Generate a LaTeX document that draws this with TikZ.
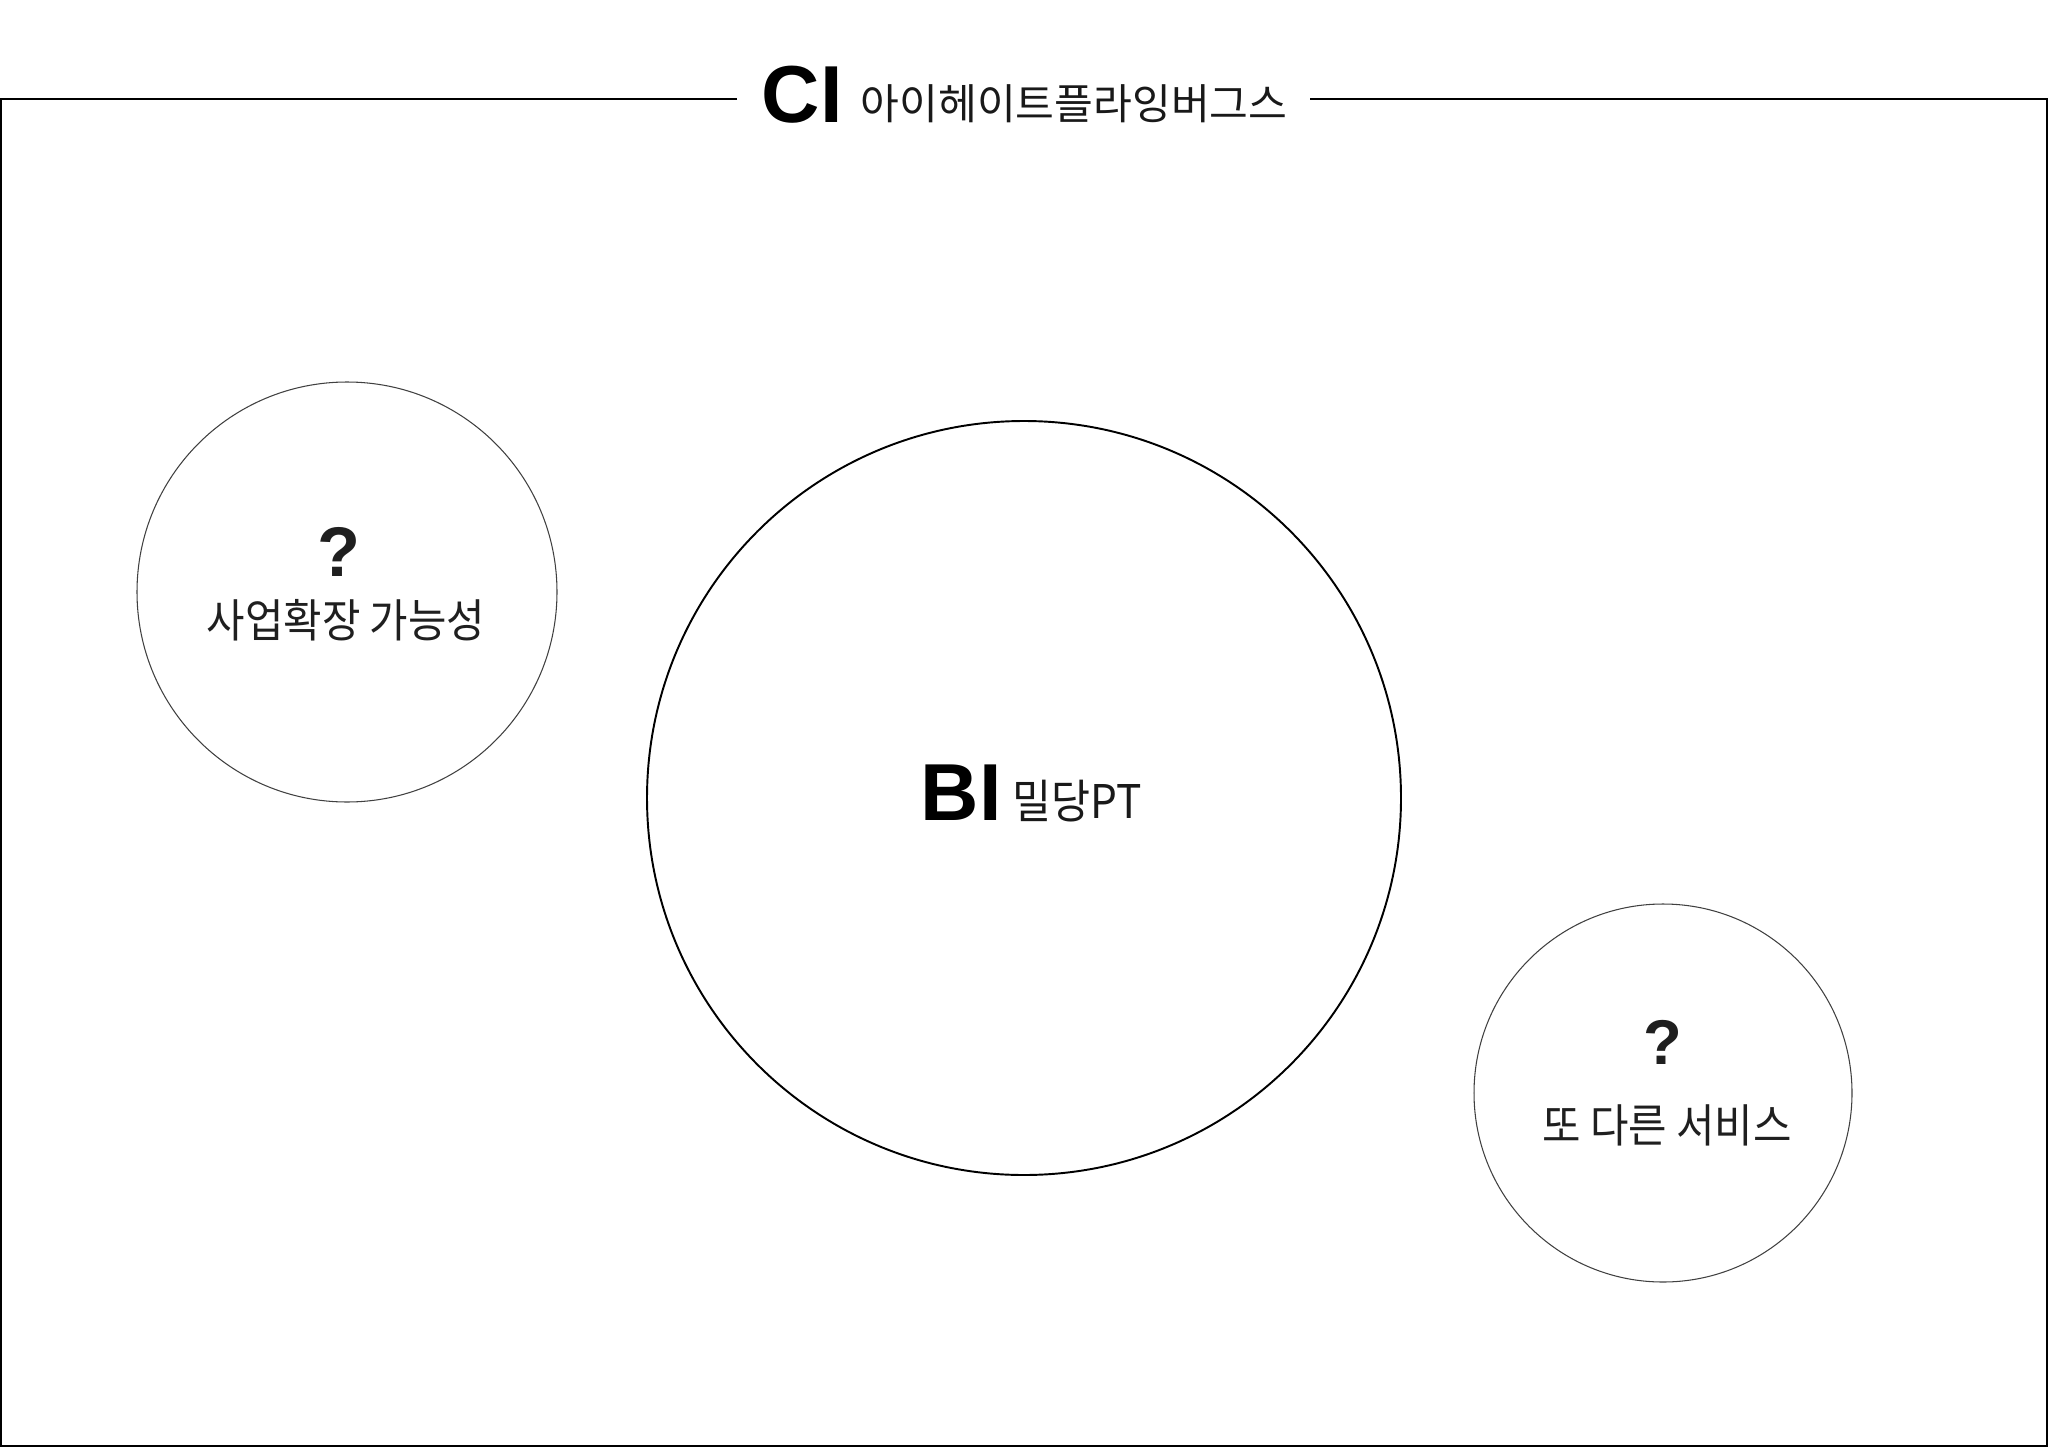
\documentclass[tikz,border=0pt]{standalone}
\usepackage{fontspec}
\setmainfont{Liberation Sans}
\newfontfamily\krfont[FakeStretch=0.915]{Noto Sans CJK KR}
\newfontfamily\krwide{Noto Sans CJK KR}
\usetikzlibrary{positioning}

\begin{document}
\begin{tikzpicture}[x=0.1mm,y=-0.1mm,
  outline/.style={draw,line width=0.6pt},
  bubble/.style={draw,circle,inner sep=0pt,line width=0.3pt,draw=black!75},
  bigbubble/.style={draw,circle,inner sep=0pt,line width=0.55pt},
  brandtag/.style={inner sep=0pt,font=\bfseries\fontsize{23}{23}\selectfont},
  brandname/.style={inner sep=0pt,font=\krwide\fontsize{12}{13}\selectfont,text=black!90},
  ask/.style={inner sep=0pt,font=\bfseries\fontsize{20}{20}\selectfont,text=black!88},
  idea/.style={inner sep=0pt,font=\krfont\fontsize{13}{14}\selectfont,text=black!88}
]
  \useasboundingbox (0,0) rectangle (2048,1448);
  % CI title
  \node[brandtag,anchor=base west] (ci) at (761,123) {CI};
  \node[brandname,anchor=base west] (ciname) at (860,120) {아이헤이트플라잉버그스};
  \coordinate (tl) at (1,99);
  \coordinate (bl) at (1,1446);
  \coordinate (br) at (2047,1446);
  \coordinate (tr) at (2047,99);
  \coordinate (gapl) at (737,99);
  \coordinate (gapr) at (1310,99);
  \draw[outline] (gapl) -- (tl) -- (bl) -- (br) -- (tr) -- (gapr);
  % Circles
  \node[bubble,minimum size=42mm] (expand) at (347,592) {};
  \node[bigbubble,minimum size=75.4mm] (bi) at (1024,798) {};
  \node[bubble,minimum size=37.8mm] (other) at (1663,1093) {};
  % Left circle
  \node[ask,anchor=base] (askl) at (339,576) {?};
  \node[idea,anchor=base] (expandtxt) at (346,637) {사업확장 가능성};
  % BI
  \node[brandtag,anchor=base west] (bitag) at (920,820) {BI};
  \node[brandname,anchor=base west,font=\krfont\fontsize{13.2}{14}\selectfont] (biname) at (1012,818) {밀당PT};
  % Right circle
  \node[ask,anchor=base,font=\bfseries\fontsize{18}{18}\selectfont] (askr) at (1663,1064) {?};
  \node[idea,anchor=base] (othertxt) at (1667,1142) {또 다른 서비스};
\end{tikzpicture}
\end{document}
